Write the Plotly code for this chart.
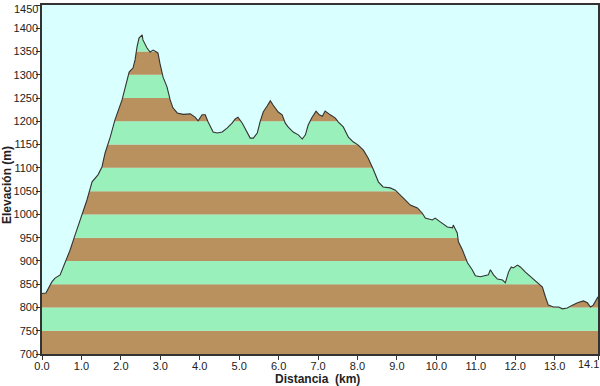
import plotly.graph_objects as go

# Distance (km) and elevation (m) read from the profile
distance = [0.00, 0.10, 0.25, 0.33, 0.46, 0.58, 0.71, 0.84, 1.02, 1.14, 1.27, 1.42, 1.52,
            1.60, 1.73, 1.85, 2.03, 2.16, 2.21, 2.31, 2.36, 2.41, 2.46, 2.54, 2.56, 2.66,
            2.74, 2.82, 2.92, 2.94, 2.99, 3.07, 3.17, 3.25, 3.32, 3.43, 3.58, 3.76, 3.88,
            3.96, 4.06, 4.14, 4.21, 4.34, 4.44, 4.57, 4.70, 4.82, 4.90, 4.97, 5.08, 5.20,
            5.28, 5.36, 5.46, 5.53, 5.61, 5.71, 5.79, 5.86, 5.99, 6.09, 6.17, 6.24, 6.37,
            6.50, 6.60, 6.68, 6.75, 6.85, 6.95, 7.03, 7.11, 7.18, 7.26, 7.31, 7.44, 7.51,
            7.64, 7.77, 7.89, 8.02, 8.15, 8.27, 8.40, 8.53, 8.65, 8.83, 8.96, 9.09, 9.21,
            9.34, 9.52, 9.64, 9.72, 9.90, 9.97, 10.10, 10.28, 10.41, 10.43, 10.53, 10.56,
            10.66, 10.79, 10.91, 10.99, 11.12, 11.24, 11.32, 11.37, 11.45, 11.55, 11.68,
            11.75, 11.83, 11.90, 11.95, 12.06, 12.13, 12.26, 12.39, 12.56, 12.69, 12.77,
            12.84, 12.97, 13.10, 13.20, 13.32, 13.45, 13.58, 13.73, 13.83, 13.91, 13.98,
            14.10]
elevation = [830, 831, 855, 863, 870, 896, 923, 956, 999, 1031, 1070, 1085, 1102,
             1132, 1166, 1203, 1246, 1293, 1306, 1315, 1332, 1360, 1379, 1386, 1375, 1358,
             1349, 1353, 1349, 1347, 1325, 1295, 1274, 1246, 1229, 1218, 1215, 1216, 1209,
             1201, 1214, 1214, 1199, 1177, 1175, 1177, 1186, 1196, 1205, 1209, 1196, 1175,
             1164, 1164, 1175, 1199, 1220, 1233, 1244, 1235, 1220, 1214, 1196, 1188, 1177,
             1171, 1162, 1171, 1192, 1209, 1222, 1214, 1211, 1222, 1218, 1214, 1207, 1199,
             1188, 1166, 1156, 1149, 1138, 1121, 1097, 1070, 1059, 1057, 1052, 1042, 1031,
             1020, 1014, 1003, 992, 988, 992, 984, 973, 971, 977, 960, 941,
             924, 896, 881, 868, 866, 868, 870, 881, 870, 861, 859,
             853, 876, 887, 885, 891, 887, 876, 866, 855, 844, 822,
             805, 801, 801, 797, 799, 805, 810, 814, 810, 801, 805,
             823]

x_tickvals = [0, 1, 2, 3, 4, 5, 6, 7, 8, 9, 10, 11, 12, 13, 14.1]
x_ticktext = ["0.0", "1.0", "2.0", "3.0", "4.0", "5.0", "6.0", "7.0", "8.0", "9.0",
              "10.0", "11.0", "12.0", "13.0", "14.1"]
y_tickvals = [700, 750, 800, 850, 900, 950, 1000, 1050, 1100, 1150, 1200, 1250, 1300,
              1350, 1400, 1450]
y_ticktext = [str(v) for v in y_tickvals]
band_edges = y_tickvals

BROWN = "#B9915F"
GREEN = "#99F0BB"
SKY = "#D9FFFF"
LINE = "#333333"
TXT = "#222222"

x_max = distance[-1]
y_top = band_edges[-1]

shapes = []
for i in range(len(band_edges) - 1):
    shapes.append(dict(type="rect", xref="paper", yref="y", x0=0, x1=1,
                       y0=band_edges[i], y1=band_edges[i + 1],
                       fillcolor=BROWN if i % 2 == 0 else GREEN,
                       line=dict(width=0), layer="below"))

fig = go.Figure()
# invisible top boundary for masking fill
fig.add_trace(go.Scatter(x=distance, y=[y_top] * len(distance), mode="lines",
                         line=dict(width=0, color=SKY), hoverinfo="skip",
                         showlegend=False))
# sky mask above the profile, with the profile line
fig.add_trace(go.Scatter(x=distance, y=elevation, mode="lines",
                         fill="tonexty", fillcolor=SKY,
                         line=dict(color=LINE, width=1.1), showlegend=False))

font = dict(family="Liberation Sans, Arial, sans-serif", size=11, color=TXT)

# edge tick labels drawn as annotations (the reference nudges them inside the page)
edge_labels = [
    dict(text=y_ticktext[-1], xref="paper", yref="paper", x=0, y=1,
         xanchor="right", yanchor="middle", xshift=-2, yshift=-4,
         showarrow=False, font=dict(size=11, color=TXT)),
    dict(text=x_ticktext[-1], xref="paper", yref="paper", x=1, y=0,
         xanchor="right", yanchor="middle", xshift=3, yshift=-10,
         showarrow=False, font=dict(size=11, color=TXT)),
]

fig.update_layout(
    width=600, height=386,
    margin=dict(l=42, r=2, t=5, b=32, autoexpand=False),
    paper_bgcolor="white",
    plot_bgcolor=SKY,
    shapes=shapes,
    font=font,
    xaxis=dict(range=[0, x_max], tickvals=x_tickvals,
               ticktext=x_ticktext[:-1] + [""],
               automargin=False, ticklabelstandoff=-3,
               showgrid=False, zeroline=False, showline=True, linecolor="#333333",
               linewidth=1.5, mirror=True, ticks="outside", ticklen=4,
               tickcolor="#333333"),
    yaxis=dict(range=[band_edges[0], y_top], tickvals=y_tickvals,
               ticktext=y_ticktext[:-1] + [""],
               automargin=False, ticklabelstandoff=-4,
               showgrid=False, zeroline=False, showline=True, linecolor="#333333",
               linewidth=1.5, mirror=True, ticks="outside", ticklen=4,
               tickcolor="#333333"),
    annotations=edge_labels + [
        dict(text="<b>Distancia  (km)</b>", xref="paper", yref="paper",
             x=0.496, y=-0.072, showarrow=False, xanchor="center", yanchor="middle",
             font=dict(size=12, color=TXT)),
        dict(text="<b>Elevación (m)</b>", xref="paper", yref="paper",
             x=-0.063, y=0.484, showarrow=False, textangle=-90,
             xanchor="center", yanchor="middle",
             font=dict(size=12, color=TXT)),
    ],
)

fig.write_html("out.html", config={"displayModeBar": False})

# remove the default page margin so the 600x386 figure fits the window exactly
with open("out.html", "r", encoding="utf-8") as f:
    html = f.read()
html = html.replace("<head>", "<head><style>html,body{margin:0;padding:0;overflow:hidden;}</style>", 1)
with open("out.html", "w", encoding="utf-8") as f:
    f.write(html)
